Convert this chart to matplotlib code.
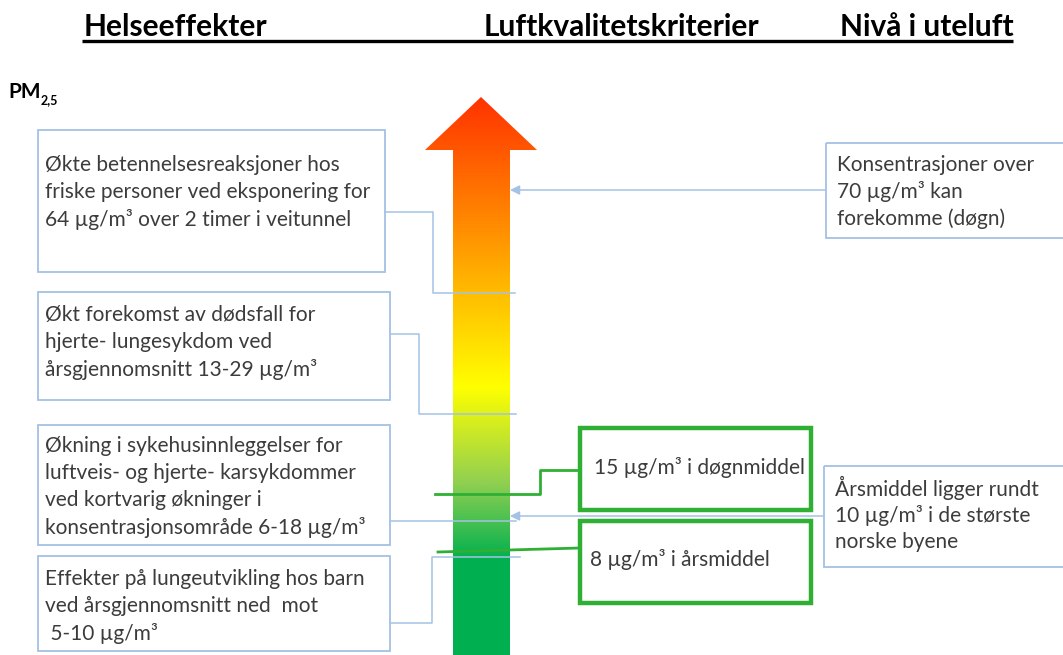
import matplotlib.pyplot as plt
import numpy as np
from matplotlib.colors import LinearSegmentedColormap
from matplotlib.patches import Polygon, Rectangle

# texts
headers = ['Helseeffekter', 'Luftkvalitetskriterier', 'Nivå i uteluft']
health_effects = [
    'Økte betennelsesreaksjoner hos\nfriske personer ved eksponering for\n64 µg/m³ over 2 timer i veitunnel',
    'Økt forekomst av dødsfall for\nhjerte- lungesykdom ved\nårsgjennomsnitt 13-29 µg/m³',
    'Økning i sykehusinnleggelser for\nluftveis- og hjerte- karsykdommer\nved kortvarig økninger i\nkonsentrasjonsområde 6-18 µg/m³',
    'Effekter på lungeutvikling hos barn\nved årsgjennomsnitt ned  mot\n 5-10 µg/m³',
]
criteria = ['15 µg/m³ i døgnmiddel', '8 µg/m³ i årsmiddel']
outdoor_levels = [
    'Konsentrasjoner over\n70 µg/m³ kan\nforekomme (døgn)',
    'Årsmiddel ligger rundt\n10 µg/m³ i de største\nnorske byene',
]

# arrow colour ramp, bottom (0) to top (1)
ramp_stops = [0.0, 0.17, 0.31, 0.48, 0.64, 0.77, 1.0]
ramp_colors = ['#00b050', '#00b050', '#92d050', '#ffff00', '#ffc000', '#ff8c00', '#ff3300']

# layout (pixels, y downwards)
W, H = 1063, 655
blue = '#a4c2e4'
green = '#2fb034'
text_col = '#3c3c3c'
font = 'Lato'
body_size = 15

left_boxes = [(38, 130, 347, 142), (38, 292, 352, 108), (38, 425, 352, 120), (38, 556, 352, 95)]
left_text_y = [165, 315, 446, 579]
left_links = [
    [(385, 212), (433, 212), (433, 293), (515, 293)],
    [(390, 334), (419, 334), (419, 414), (516, 414)],
    [(390, 521), (516, 521)],
    [(390, 623), (432, 623), (432, 557), (520, 557)],
]
right_boxes = [(826, 143, 250, 95), (824, 466, 250, 101)]
right_text_y = [165, 488]
right_arrow_y = [190, 516]

green_boxes = [(580, 428, 231, 82), (580, 521, 231, 82)]
green_text_xy = [(594, 467), (590, 560)]
green_links = [
    [(580, 470), (540, 470), (540, 494), (435, 494)],
    [(580, 548), (438, 552)],
]

fig = plt.figure(figsize=(W / 100, H / 100), dpi=100)
ax = fig.add_axes([0, 0, 1, 1])
ax.set_xlim(0, W)
ax.set_ylim(H, 0)
ax.axis('off')

# headers
for label, x in zip(headers, [84, 484, 840]):
    ax.text(x, 27, label, fontsize=21.5, fontweight='bold', family=font,
            ha='left', va='center', color='black')
ax.plot([82, 1013], [41, 41], color='black', lw=2.4, solid_capstyle='butt')

ax.text(8, 92, 'PM', fontsize=15, fontweight='bold', family=font,
        ha='left', va='center', color='black')
ax.text(41, 100, '2,5', fontsize=9, fontweight='bold', family=font,
        ha='left', va='center', color='black')

# gradient arrow
cmap = LinearSegmentedColormap.from_list('pm', list(zip(ramp_stops, ramp_colors)))
arrow = Polygon([(453, H), (453, 150), (425, 150), (481, 97), (537, 150),
                 (510, 150), (510, H)], closed=True, facecolor='none', edgecolor='none')
ax.add_patch(arrow)
grad = np.linspace(0, 1, 512).reshape(-1, 1)
im = ax.imshow(grad, extent=(425, 537, H, 97), origin='lower', cmap=cmap,
               aspect='auto', interpolation='bilinear', zorder=1)
im.set_clip_path(arrow)
ax.set_xlim(0, W)
ax.set_ylim(H, 0)


def draw_lines(x, y0, text, dy, size):
    for i, line in enumerate(text.split('\n')):
        ax.text(x, y0 + i * dy, line, fontsize=size, family=font,
                ha='left', va='center', color=text_col, zorder=5)


# health effect boxes
for (x, y, w, h), ty, txt in zip(left_boxes, left_text_y, health_effects):
    ax.add_patch(Rectangle((x, y), w, h, fill=False, edgecolor=blue, lw=1.3, zorder=3))
    draw_lines(x + 7, ty, txt, 27, body_size)
for pts in left_links:
    xs, ys = zip(*pts)
    ax.plot(xs, ys, color=blue, lw=1.1, zorder=4)

# outdoor level boxes
for (x, y, w, h), ty, ay, txt in zip(right_boxes, right_text_y, right_arrow_y, outdoor_levels):
    ax.add_patch(Rectangle((x, y), w, h, fill=False, edgecolor=blue, lw=1.3, zorder=3,
                           clip_on=False))
    draw_lines(x + 11, ty, txt, 27, body_size)
    ax.annotate('', xy=(510, ay), xytext=(x, ay), zorder=4,
                arrowprops=dict(arrowstyle='-|>', color=blue, lw=1.1,
                                mutation_scale=14, shrinkA=0, shrinkB=0))

# criteria boxes
for (x, y, w, h), (tx, ty), txt in zip(green_boxes, green_text_xy, criteria):
    ax.add_patch(Rectangle((x, y), w, h, fill=False, edgecolor=green, lw=3.2, zorder=3))
    draw_lines(tx, ty, txt, 27, body_size)
for pts in green_links:
    xs, ys = zip(*pts)
    ax.plot(xs, ys, color=green, lw=2.0, zorder=4)

fig.savefig('out.png', dpi=100, facecolor='white')
